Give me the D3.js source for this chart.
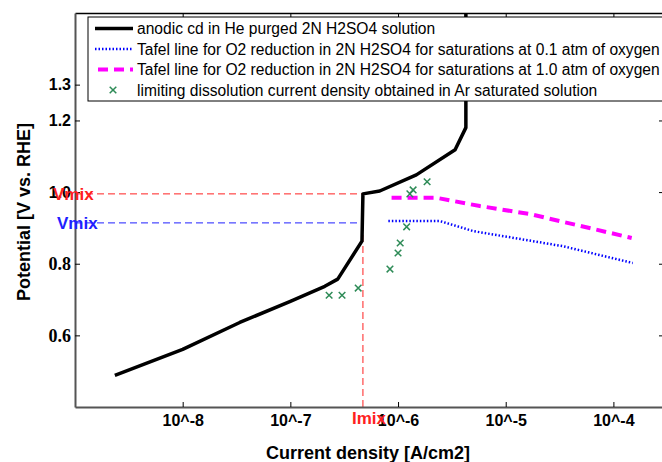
<!DOCTYPE html>
<html>
<head>
<meta charset="utf-8">
<script src="https://cdn.jsdelivr.net/npm/d3@7"></script>
<style>
body { margin: 0; background: #fff; }
text { font-family: "Liberation Sans", Arial, sans-serif; }
</style>
</head>
<body>
<div class="chart"></div>
<script>
// anodic curve (log10 current, potential)
var anodicLogI = [-8.63, -8.0, -7.47, -7.0, -6.68, -6.56, -6.335, -6.326, -6.17, -5.83, -5.47, -5.37, -5.37]
var anodicV = [0.488, 0.561, 0.636, 0.695, 0.737, 0.757, 0.863, 0.995, 1.003, 1.048, 1.118, 1.18, 1.5]

// Tafel 0.1 atm
var tafel01LogI = [-6.09, -5.61, -5.30, -4.47, -3.82]
var tafel01V = [0.919, 0.919, 0.891, 0.849, 0.802]

// Tafel 1.0 atm
var tafel10LogI = [-6.06, -5.64, -5.24, -4.78, -3.83]
var tafel10V = [0.984, 0.984, 0.961, 0.939, 0.872]

// limiting dissolution current density
var limLogI = [-6.64, -6.52, -6.37, -6.075, -6.0, -5.98, -5.92, -5.89, -5.86, -5.73]
var limV = [0.712, 0.712, 0.732, 0.785, 0.830, 0.858, 0.903, 0.995, 1.006, 1.029]

var vmixRed = 0.995, vmixBlue = 0.914
var imixLog = -6.326

var xTicks = [1e-8, 1e-7, 1e-6, 1e-5, 1e-4]
var yTicks = [0.6, 0.8, 1.0, 1.2, 1.3]
var legendLabels = [
    "anodic cd in He purged 2N H2SO4 solution",
    "Tafel line for O2 reduction in 2N H2SO4 for saturations at 0.1 atm of oxygen",
    "Tafel line for O2 reduction in 2N H2SO4 for saturations at 1.0 atm of oxygen",
    "limiting dissolution current density obtained in Ar saturated solution"
]

var margin = {top: 13, left: 75, bottom: 55, right: -2}
var W = 662, H = 462

var xScale = d3.scaleLog().domain([1e-9, Math.pow(10, -3.53)]).range([margin.left, W - margin.right])
var yScale = d3.scaleLinear().domain([0.4, 1.5]).range([H - margin.bottom, margin.top])

var svg = d3.select(".chart").append("svg")
    .attr("width", W).attr("height", H)

function pts(lx, v) { return lx.map((l, i) => [Math.pow(10, l), v[i]]) }
var line = d3.line().x(d => xScale(d[0])).y(d => yScale(d[1]))

var x0 = xScale.range()[0], x1 = xScale.range()[1]
var y0 = yScale.range()[0], y1 = yScale.range()[1]

svg.append("clipPath").attr("id", "clip")
  .append("rect").attr("x", x0).attr("y", y1).attr("width", x1 - x0).attr("height", y0 - y1)

var plot = svg.append("g").attr("clip-path", "url(#clip)")

// Vmix / Imix guides
plot.append("path")
    .attr("d", line([[1e-9, vmixRed], [Math.pow(10, imixLog), vmixRed]]))
    .attr("fill", "none").attr("stroke", "#ff2020").attr("stroke-width", 1).attr("stroke-dasharray", "7,4")
plot.append("path")
    .attr("d", line([[Math.pow(10, imixLog), 0.4], [Math.pow(10, imixLog), vmixRed]]))
    .attr("fill", "none").attr("stroke", "#ff2020").attr("stroke-width", 1).attr("stroke-dasharray", "7,4")
plot.append("path")
    .attr("d", line([[1e-9, vmixBlue], [Math.pow(10, -6.345), vmixBlue]]))
    .attr("fill", "none").attr("stroke", "#2020ff").attr("stroke-width", 1).attr("stroke-dasharray", "7,4")

plot.append("path")
    .attr("d", line(pts(tafel01LogI, tafel01V)))
    .attr("fill", "none").attr("stroke", "#0000ff").attr("stroke-width", 2.5).attr("stroke-dasharray", "1.5,2")
plot.append("path")
    .attr("d", line(pts(tafel10LogI, tafel10V)))
    .attr("fill", "none").attr("stroke", "#ff00ff").attr("stroke-width", 4).attr("stroke-dasharray", "10,6")
plot.append("path")
    .attr("d", line(pts(anodicLogI, anodicV)))
    .attr("fill", "none").attr("stroke", "#000").attr("stroke-width", 3.5).attr("stroke-linejoin", "round")

var cross = d3.symbol().type(d3.symbolX).size(30)
plot.selectAll(".lim")
    .data(pts(limLogI, limV))
    .enter().append("path")
    .attr("class", "lim")
    .attr("d", cross)
    .attr("transform", d => "translate(" + xScale(d[0]) + "," + yScale(d[1]) + ")")
    .attr("fill", "none").attr("stroke", "#2e8b57").attr("stroke-width", 1.5)

// axes, ticks inward
var fmtX = d => "10^" + Math.round(Math.log10(d))
svg.append("g")
    .attr("transform", "translate(0," + y0 + ")")
    .call(d3.axisBottom(xScale).tickValues(xTicks).tickFormat(fmtX).tickSizeInner(-5).tickSizeOuter(0).tickPadding(8))
    .call(g => g.select(".domain").attr("stroke", "#555").attr("stroke-width", 2))
    .call(g => g.selectAll("text").attr("font-size", 16).attr("font-weight", "bold").attr("fill", "#000"))
svg.append("g")
    .attr("transform", "translate(0," + y1 + ")")
    .call(d3.axisTop(xScale).tickValues(xTicks).tickFormat("").tickSizeInner(-5).tickSizeOuter(0))
    .call(g => g.select(".domain").attr("stroke", "#000").attr("stroke-width", 1.5))
svg.append("g")
    .attr("transform", "translate(" + x0 + ",0)")
    .call(d3.axisLeft(yScale).tickValues(yTicks).tickFormat(d3.format(".1f")).tickSizeInner(-5).tickSizeOuter(0).tickPadding(4))
    .call(g => g.select(".domain").attr("stroke", "#555").attr("stroke-width", 2))
    .call(g => g.selectAll("text").attr("font-size", d => d < 0.9 ? 18 : 16).attr("font-weight", "bold").attr("fill", "#000")
        .style("font-family", d => d < 0.9 ? "'Liberation Serif', serif" : null))
svg.append("g")
    .attr("transform", "translate(" + x1 + ",0)")
    .call(d3.axisRight(yScale).tickValues(yTicks).tickFormat("").tickSizeInner(-5).tickSizeOuter(0))

// Vmix / Imix labels
svg.append("text").attr("x", 53).attr("y", yScale(vmixRed) + 6)
    .attr("fill", "#ff2020").attr("font-size", 17).attr("font-weight", "bold").text("Vmix")
svg.append("text").attr("x", 57).attr("y", yScale(vmixBlue) + 6)
    .attr("fill", "#2020ff").attr("font-size", 17).attr("font-weight", "bold").text("Vmix")
svg.append("text").attr("x", xScale(Math.pow(10, imixLog)) - 11).attr("y", y0 + 17)
    .attr("fill", "#ff2020").attr("font-size", 17).attr("font-weight", "bold").text("Imix")

// axis titles
svg.append("text")
    .attr("transform", "translate(30," + 212 + ") rotate(-90)")
    .attr("text-anchor", "middle").attr("font-size", 18).attr("font-weight", "bold")
    .text("Potential [V vs. RHE]")
svg.append("text")
    .attr("x", 368).attr("y", 459)
    .attr("text-anchor", "middle").attr("font-size", 18).attr("font-weight", "bold")
    .text("Current density [A/cm2]")

// legend
var lg = svg.append("g").attr("transform", "translate(88,17)")
lg.append("rect").attr("width", 580).attr("height", 84)
    .attr("fill", "#fff").attr("stroke", "#000").attr("stroke-width", 1)
var rows = lg.selectAll(".row").data(legendLabels).enter().append("g")
    .attr("class", "row")
    .attr("transform", (d, i) => "translate(0," + (11.5 + i * 20.5) + ")")
rows.append("text").attr("x", 49).attr("y", 5.5).attr("font-size", 15.6).text(d => d)
var sw = [
    {stroke: "#000", width: 3.5, dash: null},
    {stroke: "#0000ff", width: 2.5, dash: "1.5,2"},
    {stroke: "#ff00ff", width: 4, dash: "10,6"}
]
sw.forEach((s, i) => {
    lg.append("line").attr("x1", i == 2 ? 10 : 7).attr("x2", 45)
        .attr("y1", 11.5 + i * 20.5).attr("y2", 11.5 + i * 20.5)
        .attr("stroke", s.stroke).attr("stroke-width", s.width).attr("stroke-dasharray", s.dash)
})
lg.append("path").attr("d", cross)
    .attr("transform", "translate(25," + (11.5 + 3 * 20.5) + ")")
    .attr("fill", "none").attr("stroke", "#2e8b57").attr("stroke-width", 1.5)
</script>
</body>
</html>
